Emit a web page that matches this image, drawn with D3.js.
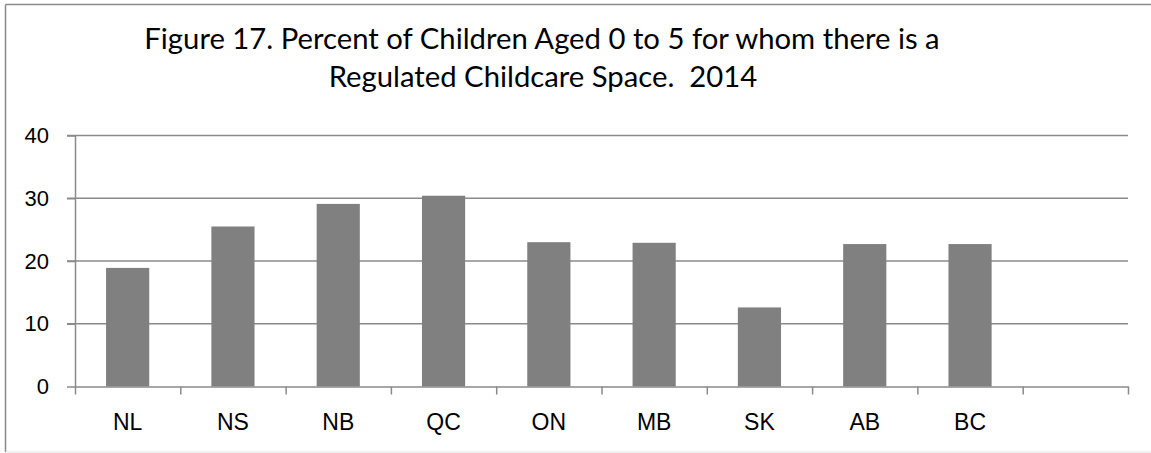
<!DOCTYPE html>
<html>
<head>
<meta charset="utf-8">
<script src="https://cdn.jsdelivr.net/npm/d3@7/dist/d3.min.js"></script>
<style>
  body { margin: 0; background: #fff; }
  svg { display: block; font-family: Lato, "Open Sans", sans-serif; }
  .title text { white-space: pre; }
</style>
</head>
<body>
<svg width="1151" height="453"></svg>
<script>
'use strict';

// chart data (last slot is empty in the source sheet)
var categories = ['NL', 'NS', 'NB', 'QC', 'ON', 'MB', 'SK', 'AB', 'BC', ''];
var values = [18.9, 25.5, 29.1, 30.4, 23.0, 22.9, 12.6, 22.7, 22.7];
var yTicks = [0, 10, 20, 30, 40];
var titleLines = [
    'Figure 17. Percent of Children Aged 0 to 5 for whom there is a',
    'Regulated Childcare Space.  2014'
];

var PLOT = { LEFT: 75, RIGHT: 1128, TOP: 135.5, BOTTOM: 386.5 };
var GRID = '#8a8a8a';

var svg = d3.select('svg');

// outer chart border
svg.append('line')
    .attr('x1', 5.5).attr('y1', 4.5).attr('x2', 1151).attr('y2', 4.5)
    .attr('stroke', GRID).attr('stroke-width', 1.5);
svg.append('line')
    .attr('x1', 5.5).attr('y1', 4.5).attr('x2', 5.5).attr('y2', 452)
    .attr('stroke', GRID).attr('stroke-width', 1.5);
svg.append('line')
    .attr('x1', 5.5).attr('y1', 452).attr('x2', 1151).attr('y2', 452)
    .attr('stroke', '#e2e2e2').attr('stroke-width', 1);

// title, fitted to the measured width of line one
var title = svg.append('g').attr('class', 'title');
var t1 = title.append('text')
    .attr('x', 542).attr('y', 49)
    .attr('text-anchor', 'middle')
    .attr('font-size', 28)
    .attr('fill', '#000')
    .text(titleLines[0]);
var fs = 28 * 796 / t1.node().getComputedTextLength();
fs = Math.max(24, Math.min(32, fs));
t1.attr('font-size', fs);
title.append('text')
    .attr('x', 543).attr('y', 87)
    .attr('text-anchor', 'middle')
    .attr('font-size', fs)
    .attr('fill', '#000')
    .attr('xml:space', 'preserve')
    .text(titleLines[1]);

var x = d3.scaleBand()
    .domain(categories)
    .range([PLOT.LEFT, PLOT.RIGHT])
    .paddingInner(0.59)
    .paddingOuter(0.295);

var xEdge = d3.scaleLinear()
    .domain([0, categories.length])
    .range([PLOT.LEFT, PLOT.RIGHT]);

var y = d3.scaleLinear()
    .domain([0, 40])
    .range([PLOT.BOTTOM, PLOT.TOP]);

//grid lines
svg.append('g')
    .attr('id', 'grid-group')
    .selectAll('line')
    .data(yTicks.filter(function(d) { return d > 0; }))
    .enter()
    .append('line')
    .attr('stroke', GRID)
    .attr('stroke-width', 1.5)
    .attr('x1', PLOT.LEFT - 8)
    .attr('x2', PLOT.RIGHT)
    .attr('y1', function(d) { return y(d); })
    .attr('y2', function(d) { return y(d); });

//bars
svg.append('g')
    .attr('id', 'bar-group')
    .selectAll('rect')
    .data(values)
    .enter()
    .append('rect')
    .attr('x', function(d, i) { return x(categories[i]); })
    .attr('width', x.bandwidth())
    .attr('y', function(d) { return y(d); })
    .attr('height', function(d) { return y(0) - y(d); })
    .attr('fill', '#808080');

//axis y
var axisY = d3.axisLeft(y)
    .tickValues(yTicks)
    .tickSize(8)
    .tickPadding(18)
    .tickSizeOuter(0);

var gY = svg.append('g')
    .attr('class', 'axisY')
    .attr('transform', 'translate(' + PLOT.LEFT + ',0)')
    .call(axisY);
gY.selectAll('path, line').attr('stroke', GRID).attr('stroke-width', 1.5);
gY.selectAll('text').attr('font-size', 22).attr('fill', '#000').attr('font-family', null);

//axis x: tick marks between categories
var gXTicks = svg.append('g')
    .attr('class', 'axisXTicks')
    .attr('transform', 'translate(0,' + PLOT.BOTTOM + ')')
    .call(d3.axisBottom(xEdge)
        .tickValues(d3.range(categories.length + 1))
        .tickFormat('')
        .tickSize(8)
        .tickSizeOuter(0));
gXTicks.selectAll('path, line').attr('stroke', GRID).attr('stroke-width', 1.5);

//axis x: category labels
var gX = svg.append('g')
    .attr('class', 'axisX')
    .attr('transform', 'translate(0,' + PLOT.BOTTOM + ')')
    .call(d3.axisBottom(x).tickSize(0).tickPadding(0));
gX.select('.domain').remove();
gX.selectAll('text')
    .attr('y', 43.5)
    .attr('dy', null)
    .attr('font-size', 23)
    .attr('fill', '#000')
    .attr('font-family', null);
</script>
</body>
</html>
